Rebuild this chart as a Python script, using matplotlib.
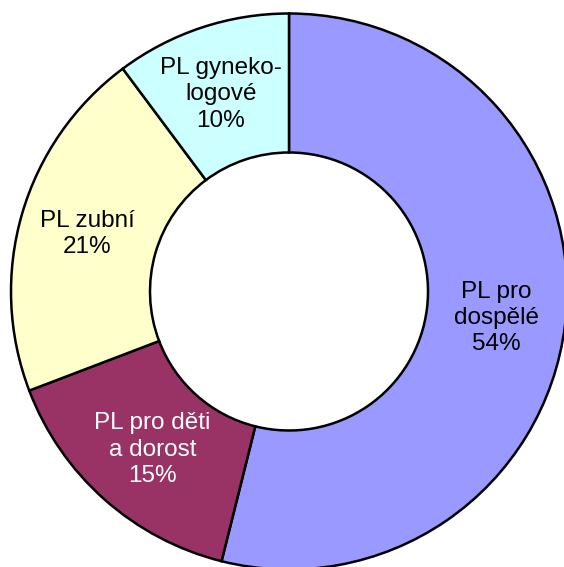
import matplotlib
matplotlib.use("Agg")
import matplotlib.pyplot as plt

# data
categories = ["PL pro\ndospělé", "PL pro děti\na dorost", "PL zubní", "PL gyneko-\nlogové"]
shares = [53.9, 15.3, 20.6, 10.2]
colors = ["#9999FF", "#993366", "#FFFFCC", "#CCFFFF"]
text_colors = ["black", "white", "black", "black"]

# label placement (data coords, donut radius = 1)
label_pos = [(0.747, -0.096), (-0.491, -0.569), (-0.726, 0.208), (-0.245, 0.709)]

plt.rcParams["font.family"] = ["Liberation Sans", "DejaVu Sans"]

fig = plt.figure(figsize=(5.64, 5.67), dpi=100)
ax = fig.add_axes([0, 0, 1, 1])

ax.pie(shares, colors=colors, startangle=90, counterclock=False, radius=1.0,
       wedgeprops=dict(width=0.5, edgecolor="black", linewidth=1.8))

for cat, val, (x, y), tc in zip(categories, shares, label_pos, text_colors):
    ax.text(x, y, f"{cat}\n{round(val):d}%", ha="center", va="center",
            fontsize=17.5, color=tc, linespacing=1.25)

ax.set_aspect("auto")
ax.set_xlim(-289 / 278, (564 - 289) / 278)
ax.set_ylim(-(567 - 291.5) / 278, 291.5 / 278)
ax.axis("off")

fig.savefig("out.png", dpi=100)
